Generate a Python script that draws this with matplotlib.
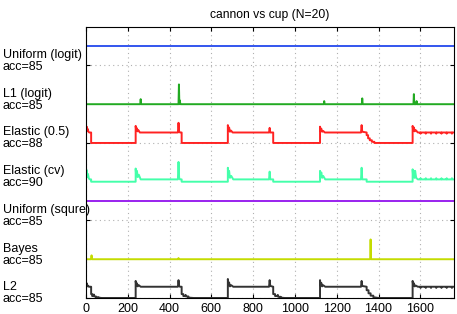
import matplotlib
matplotlib.use('Agg')
import matplotlib.pyplot as plt
import matplotlib.transforms as mtransforms
import numpy as np

# method labels (top to bottom) and the band each trace sits in
labels = ['Uniform (logit)', 'L1 (logit)', 'Elastic (0.5)', 'Elastic (cv)',
          'Uniform (squre)', 'Bayes', 'L2']
accs = [85, 85, 88, 90, 85, 85, 85]
bands = [6, 5, 4, 3, 2, 1, 0]
colors = ['#3355ee', '#22aa22', '#ff2222', '#44ffaa', '#9922ee', '#c4dc00', '#333333']

# values (relative to the band base)
unif_logit_x = [0, 1760]
unif_logit_y = [0.5, 0.5]

l1_x = [0, 260, 262, 264, 443, 445, 447, 449, 451, 453, 1138, 1140, 1142,
        1320, 1322, 1324, 1567, 1569, 1571, 1580, 1582, 1584, 1760]
l1_y = [0, 0, 0.13, 0, 0, 0.51, 0, 0.10, 0.03, 0, 0, 0.08, 0,
        0, 0.15, 0, 0, 0.26, 0, 0, 0.08, 0, 0]

tail_x = [1600, 1601, 1603, 1625, 1626, 1628, 1650, 1651, 1653, 1675, 1676,
          1678, 1700, 1701, 1703, 1725, 1726, 1728, 1750, 1751, 1753, 1760]

elastic_x = [0, 2, 4, 6, 9, 12, 16, 25, 25,
             238, 238, 241, 244, 247, 251, 258, 440, 443, 446, 450, 458, 458,
             679, 679, 682, 685, 689, 694, 702, 876, 879, 882, 896, 896,
             1120, 1120, 1123, 1126, 1130, 1135, 1143, 1316, 1319, 1322, 1343,
             1343, 1350, 1350, 1358, 1358, 1368, 1368, 1380, 1380,
             1563, 1563, 1566, 1569, 1573, 1578, 1588] + tail_x
elastic_y = [0.40, 0.30, 0.42, 0.32, 0.36, 0.29, 0.27, 0.27, 0,
             0, 0.44, 0.31, 0.38, 0.30, 0.33, 0.27, 0.27, 0.52, 0.30, 0.27, 0.27, 0,
             0, 0.46, 0.32, 0.40, 0.29, 0.32, 0.27, 0.27, 0.39, 0.27, 0.27, 0,
             0, 0.42, 0.31, 0.37, 0.29, 0.31, 0.27, 0.27, 0.46, 0.29, 0.27,
             0.20, 0.20, 0.12, 0.12, 0.07, 0.07, 0.03, 0.03, 0,
             0, 0.44, 0.32, 0.40, 0.30, 0.33, 0.27,
             0.27, 0.24, 0.27, 0.27, 0.24, 0.27, 0.27, 0.24, 0.27, 0.27, 0.24,
             0.27, 0.27, 0.24, 0.27, 0.27, 0.24, 0.27, 0.27, 0.24, 0.27, 0.27]

cv_x = [0, 2, 4, 7, 10, 14, 20, 25, 25,
        238, 238, 241, 244, 248, 253, 262, 440, 443, 446, 450, 458, 458,
        679, 679, 682, 685, 689, 695, 705, 876, 879, 882, 896, 896,
        1120, 1120, 1123, 1126, 1130, 1135, 1145, 1316, 1319, 1322, 1343, 1343,
        1563, 1563, 1566, 1569, 1572, 1575, 1580, 1588] + tail_x
cv_y = [0.34, 0.15, 0.30, 0.12, 0.20, 0.08, 0.06, 0.06, 0,
        0, 0.34, 0.14, 0.28, 0.12, 0.18, 0.06, 0.06, 0.51, 0.10, 0.06, 0.06, 0,
        0, 0.36, 0.14, 0.28, 0.10, 0.15, 0.06, 0.06, 0.26, 0.06, 0.06, 0,
        0, 0.28, 0.12, 0.24, 0.10, 0.15, 0.06, 0.06, 0.36, 0.06, 0.06, 0,
        0, 0.32, 0.12, 0.28, 0.10, 0.28, 0.10, 0.06,
        0.06, 0.09, 0.06, 0.06, 0.09, 0.06, 0.06, 0.09, 0.06, 0.06, 0.09,
        0.06, 0.06, 0.09, 0.06, 0.06, 0.09, 0.06, 0.06, 0.09, 0.06, 0.06]

unif_sq_x = [0, 1760]
unif_sq_y = [0.5, 0.5]

bayes_x = [0, 25, 27, 29, 441, 443, 445, 1360, 1362, 1364, 1760]
bayes_y = [0, 0, 0.10, 0, 0, 0.03, 0, 0, 0.51, 0, 0]

l2_x = [0, 2, 4, 7, 10, 14, 20, 25, 25, 30, 30, 36, 38, 40, 48, 48, 60, 60, 75,
        238, 238, 241, 244, 248, 253, 262, 440, 443, 446, 450, 458, 458, 466,
        466, 475, 477, 479, 490, 490, 515,
        679, 679, 682, 685, 689, 695, 705, 876, 879, 882, 896, 896, 905, 905,
        915, 918, 920, 932, 932, 950,
        1120, 1120, 1123, 1126, 1130, 1135, 1145, 1316, 1319, 1322, 1343, 1343,
        1352, 1352, 1362, 1362, 1375, 1375, 1400,
        1563, 1563, 1566, 1569, 1573, 1578, 1588] + tail_x
l2_y = [0.36, 0.30, 0.38, 0.30, 0.32, 0.29, 0.29, 0.29, 0.10, 0.10, 0.05, 0.05,
        0.09, 0.04, 0.04, 0.02, 0.02, 0.01, 0,
        0, 0.44, 0.32, 0.38, 0.30, 0.33, 0.29, 0.29, 0.46, 0.31, 0.29, 0.29, 0.10,
        0.10, 0.05, 0.05, 0.08, 0.04, 0.04, 0.01, 0,
        0, 0.49, 0.33, 0.40, 0.30, 0.33, 0.29, 0.29, 0.46, 0.31, 0.29, 0.10, 0.10,
        0.05, 0.05, 0.08, 0.03, 0.03, 0.01, 0,
        0, 0.46, 0.32, 0.39, 0.30, 0.33, 0.29, 0.29, 0.44, 0.31, 0.29, 0.20,
        0.20, 0.12, 0.12, 0.06, 0.06, 0.02, 0,
        0, 0.44, 0.32, 0.38, 0.30, 0.32, 0.29,
        0.29, 0.26, 0.29, 0.29, 0.26, 0.29, 0.29, 0.26, 0.29, 0.29, 0.26,
        0.29, 0.29, 0.26, 0.29, 0.29, 0.26, 0.29, 0.29, 0.26, 0.29, 0.29]

series = [(unif_logit_x, unif_logit_y), (l1_x, l1_y), (elastic_x, elastic_y),
          (cv_x, cv_y), (unif_sq_x, unif_sq_y), (bayes_x, bayes_y), (l2_x, l2_y)]

plt.rcParams['font.family'] = ['Liberation Sans', 'DejaVu Sans']

fig, ax = plt.subplots(figsize=(4.57, 3.14), dpi=100)
fig.subplots_adjust(left=0.188, right=0.993, bottom=0.051, top=0.915)

trans = mtransforms.blended_transform_factory(ax.transAxes, ax.transData)
for (x, y), band, c, lab, acc in zip(series, bands, colors, labels, accs):
    ax.plot(x, np.array(y) + band, color=c, lw=1.4)
    ax.text(-0.226, band + 0.12, '%s\nacc=%d' % (lab, acc), transform=trans,
            fontsize=9, va='center', ha='left', linespacing=1.0)

ax.set_xlim(0, 1760)
ax.set_ylim(0, 7)
ax.set_xticks(range(0, 1601, 200))
ax.set_yticks([0, 2, 4, 6])
ax.set_yticklabels([])
ax.tick_params(direction='in', top=True, right=True, length=3, labelsize=9)
ax.grid(True, linestyle=(0, (1, 3)), color='#b0b0b0', lw=0.8)
for s in ax.spines.values():
    s.set_linewidth(0.8)
ax.set_title('cannon vs cup (N=20)', fontsize=8.7)

fig.savefig('out.png', dpi=100)
